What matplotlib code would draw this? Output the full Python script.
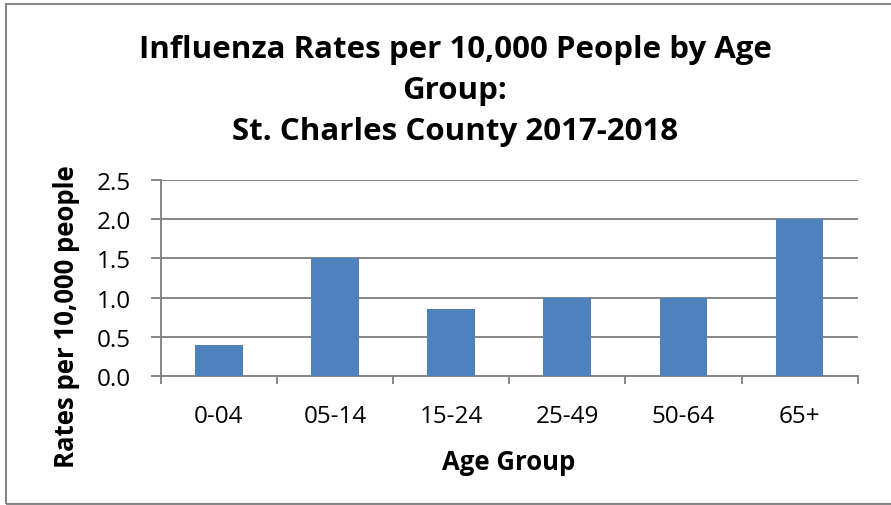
import matplotlib.pyplot as plt
from matplotlib.patches import Rectangle

groups = ["0-04", "05-14", "15-24", "25-49", "50-64", "65+"]
rates = [0.4, 1.5, 0.85, 1.0, 1.0, 2.0]
yticks = [0.0, 0.5, 1.0, 1.5, 2.0, 2.5]
title_lines = ["Influenza Rates per 10,000 People by Age", "Group:", "St. Charles County 2017-2018"]

bar_color = "#4f81bd"
line_color = "#868686"
W, H = 891, 506

fig = plt.figure(figsize=(8.91, 5.06), dpi=100)
ax = fig.add_axes([160.7 / W, 1 - 377 / H, 697 / W, 196 / H])

# outer chart frame
fig.patches.append(Rectangle((6 / W, 1 - 505 / H), 1.0, 500 / H, transform=fig.transFigure,
                             fill=False, edgecolor=line_color, linewidth=1.5))

x = range(len(groups))
ax.bar(x, rates, width=0.41, color=bar_color, zorder=3)

ax.set_xlim(-0.5, len(groups) - 0.5)
ax.set_ylim(0, 2.5)
ax.set_yticks(yticks)
ax.set_yticklabels(["%.1f" % v for v in yticks], fontsize=17.5, family="Open Sans")
ax.set_xticks(x)
ax.set_xticklabels(groups, fontsize=17.5, family="Open Sans")
ax.set_xticks([i - 0.5 for i in range(len(groups) + 1)], minor=True)

ax.grid(axis="y", color=line_color, linewidth=1.4, zorder=0)
for s in ["top", "right"]:
    ax.spines[s].set_visible(False)
for s in ["left", "bottom"]:
    ax.spines[s].set_color(line_color)
    ax.spines[s].set_linewidth(1.4)

ax.tick_params(axis="y", length=7.5, width=1.4, color=line_color, pad=14)
ax.tick_params(axis="x", which="major", length=0, pad=20)
ax.tick_params(axis="x", which="minor", length=6, width=1.4, color=line_color)

fig.text(509 / W, 1 - 463 / H, "Age Group", ha="center", va="center",
         fontsize=18.5, fontweight="bold", family="Open Sans")
fig.text(67 / W, 1 - 317 / H, "Rates per 10,000 people", ha="center", va="center", rotation=90,
         fontsize=18.5, fontweight="bold", family="Open Sans")

for line, base in zip(title_lines, [58, 99, 140]):
    fig.text(455 / W, 1 - base / H, line, ha="center", va="baseline",
             fontsize=22.5, fontweight="bold", family="Open Sans")

fig.savefig("out.png", dpi=100)
